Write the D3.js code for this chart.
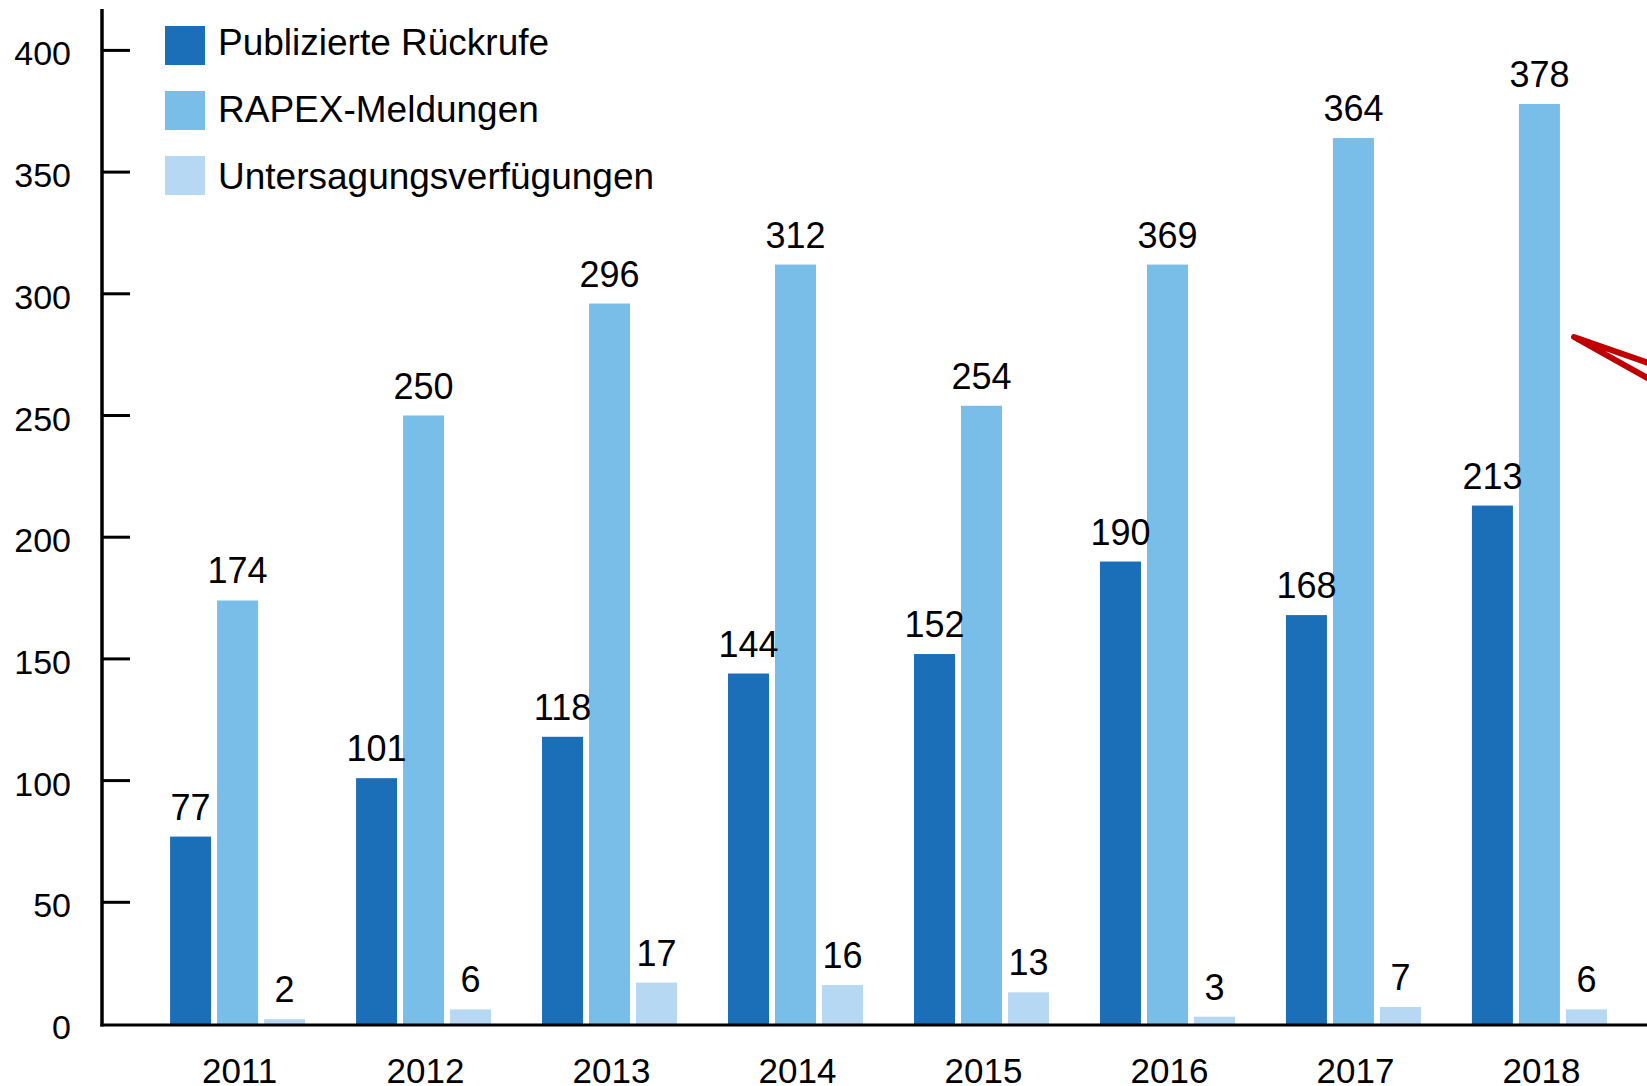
<!DOCTYPE html>
<html>
<head>
<meta charset="utf-8">
<script src="https://cdn.jsdelivr.net/npm/d3@7"></script>
<style>
  body { margin: 0; background: #fff; }
  text { font-family: "Liberation Sans", Arial, sans-serif; fill: #000; }
</style>
</head>
<body>
<div id="chart"></div>
<script>
var years = ["2011", "2012", "2013", "2014", "2015", "2016", "2017", "2018"];
var rueckrufe = [77, 101, 118, 144, 152, 190, 168, 213];
var rapex = [174, 250, 296, 312, 254, 312, 364, 378];          // bar heights as drawn
var rapexLabels = [174, 250, 296, 312, 254, 369, 364, 378];    // numbers printed above
var untersagung = [2, 6, 17, 16, 13, 3, 7, 6];
var seriesNames = ["Publizierte Rückrufe", "RAPEX-Meldungen", "Untersagungsverfügungen"];
var colors = ["#1b6fb8", "#78bee9", "#b6d8f3"];
var yTicks = [0, 50, 100, 150, 200, 250, 300, 350, 400];

var width = 1647, height = 1086;
var axisX = 102, baseY = 1025;

var svg = d3.select("#chart").append("svg")
  .attr("width", width)
  .attr("height", height);

var x_scale = d3.scaleBand()
  .domain(years)
  .range([axisX, 1675])
  .paddingInner(0.274)
  .paddingOuter(0.366);

var x_inner = d3.scaleBand()
  .domain([0, 1, 2])
  .range([0, x_scale.bandwidth()])
  .paddingInner(6 / 47);

var y_scale = d3.scaleLinear()
  .domain([0, 400])
  .range([1024, 50.4]);

var data = years.map(function(y, i) {
  return {
    year: y,
    vals: [
      { k: 0, v: rueckrufe[i], label: rueckrufe[i] },
      { k: 1, v: rapex[i], label: rapexLabels[i] },
      { k: 2, v: untersagung[i], label: untersagung[i] }
    ]
  };
});

var groups = svg.selectAll(".grp")
  .data(data)
  .enter().append("g")
  .attr("transform", function(d) { return "translate(" + x_scale(d.year) + ",0)"; });

groups.selectAll("rect")
  .data(function(d) { return d.vals; })
  .enter().append("rect")
  .attr("x", function(d) { return x_inner(d.k); })
  .attr("width", x_inner.bandwidth())
  .attr("y", function(d) { return y_scale(d.v); })
  .attr("height", function(d) { return y_scale(0) - y_scale(d.v); })
  .attr("fill", function(d) { return colors[d.k]; });

groups.selectAll("text.val")
  .data(function(d) { return d.vals; })
  .enter().append("text")
  .attr("class", "val")
  .attr("x", function(d) { return x_inner(d.k) + x_inner.bandwidth() / 2; })
  .attr("y", function(d) { return y_scale(d.v) - 17; })
  .attr("text-anchor", "middle")
  .style("font-size", "36px")
  .text(function(d) { return d.label; });

// year labels
svg.selectAll("text.year")
  .data(years)
  .enter().append("text")
  .attr("class", "year")
  .attr("x", function(d) { return x_scale(d) + x_scale.bandwidth() / 2 + 2; })
  .attr("y", 1083)
  .attr("text-anchor", "middle")
  .style("font-size", "35px")
  .text(function(d) { return d; });

// y axis
var yAxis = svg.append("g");
yAxis.selectAll("line")
  .data(yTicks.slice(1))
  .enter().append("line")
  .attr("x1", axisX)
  .attr("x2", 130)
  .attr("y1", function(d) { return y_scale(d); })
  .attr("y2", function(d) { return y_scale(d); })
  .attr("stroke", "#000")
  .attr("stroke-width", 3);
yAxis.selectAll("text")
  .data(yTicks)
  .enter().append("text")
  .attr("x", 71)
  .attr("y", function(d) { return y_scale(d) + 15; })
  .attr("text-anchor", "end")
  .style("font-size", "34px")
  .text(function(d) { return d; });

svg.append("line")
  .attr("x1", axisX).attr("x2", axisX)
  .attr("y1", 9).attr("y2", baseY + 1.5)
  .attr("stroke", "#000").attr("stroke-width", 3.5);
svg.append("line")
  .attr("x1", axisX - 1.5).attr("x2", width)
  .attr("y1", baseY).attr("y2", baseY)
  .attr("stroke", "#000").attr("stroke-width", 3);

// legend
var legend = svg.append("g");
seriesNames.forEach(function(name, i) {
  var ly = 26 + i * 65;
  legend.append("rect")
    .attr("x", 165).attr("y", ly)
    .attr("width", 40).attr("height", 39)
    .attr("fill", colors[i]);
  legend.append("text")
    .attr("x", 218).attr("y", 55 + i * 67)
    .style("font-size", "37px")
    .text(name);
});

// red annotation stroke at the right edge
svg.append("path")
  .attr("d", "M1660,367 L1574,337 L1660,385")
  .attr("fill", "none")
  .attr("stroke", "#c00000")
  .attr("stroke-width", 6)
  .attr("stroke-linecap", "round")
  .attr("stroke-linejoin", "round");
</script>
</body>
</html>
